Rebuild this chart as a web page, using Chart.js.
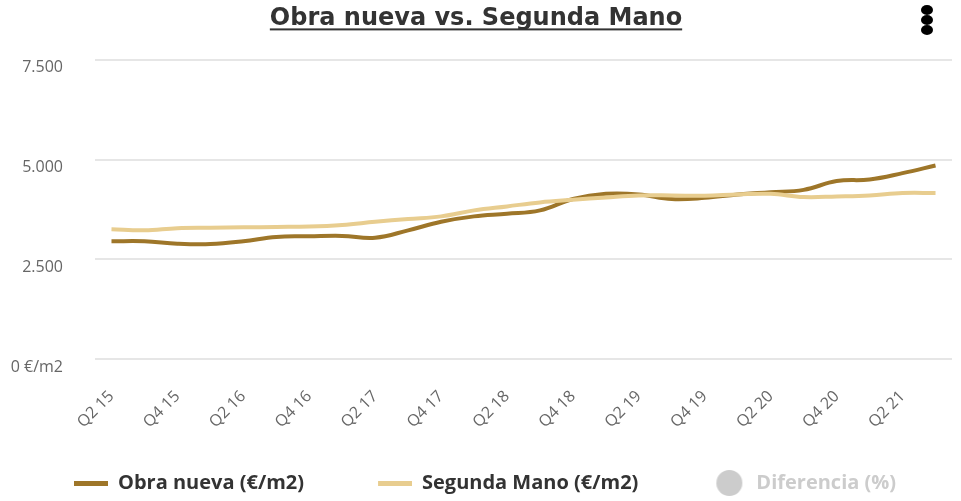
<!DOCTYPE html>
<html>
<head>
<meta charset="utf-8">
<script src="https://cdn.jsdelivr.net/npm/chart.js@4.4.0/dist/chart.umd.min.js"></script>
<style>
  html, body { margin: 0; padding: 0; background: #fff; }
  #wrap { width: 961px; height: 501px; position: relative; }
</style>
</head>
<body>
<div id="wrap"><canvas id="grafico"></canvas></div>
<script>
const trimestres = [
  "Q2 15", "Q3 15", "Q4 15", "Q1 16", "Q2 16", "Q3 16", "Q4 16", "Q1 17", "Q2 17",
  "Q3 17", "Q4 17", "Q1 18", "Q2 18", "Q3 18", "Q4 18", "Q1 19", "Q2 19", "Q3 19",
  "Q4 19", "Q1 20", "Q2 20", "Q3 20", "Q4 20", "Q1 21", "Q2 21", "Q3 21"
];
const obraNueva = [2950, 2950, 2890, 2880, 2950, 3060, 3075, 3085, 3040, 3225, 3440, 3575, 3640,
  3725, 4010, 4140, 4125, 4010, 4040, 4125, 4180, 4240, 4460, 4500, 4660, 4850];
const segundaMano = [3250, 3225, 3280, 3290, 3300, 3310, 3320, 3360, 3440, 3510, 3575, 3725, 3825,
  3925, 3990, 4050, 4100, 4100, 4090, 4125, 4140, 4060, 4075, 4100, 4160, 4160];
const diferencia = []; // serie oculta en el original
const ticksY = [0, 2500, 5000, 7500];

const colorObra = "#9e7629";
const colorSegunda = "#e8cd8f";
const colorGris = "#cccccc";

// muestras de la leyenda: hueco transparente a la izquierda + marca de 34px
const HUECO = 66;
function muestraLinea(color) {
  const c = document.createElement("canvas");
  c.width = HUECO + 34; c.height = 5;
  const x = c.getContext("2d");
  x.fillStyle = color;
  x.fillRect(HUECO, 0, 34, 5);
  return c;
}
function muestraCirculo(color) {
  const c = document.createElement("canvas");
  c.width = HUECO + 34; c.height = 26;
  const x = c.getContext("2d");
  x.fillStyle = color;
  x.beginPath();
  x.arc(HUECO + 17, 13, 13, 0, Math.PI * 2);
  x.fill();
  return c;
}
const muestras = [muestraLinea(colorObra), muestraLinea(colorSegunda), muestraCirculo(colorGris)];

function miles(v) {
  return String(v).replace(/\B(?=(\d{3})+(?!\d))/g, ".");
}

const decoracion = {
  id: "decoracion",
  afterDraw(chart) {
    const ctx = chart.ctx;
    const t = chart.options.plugins.title;
    const tb = chart.titleBlock;
    const f = Chart.helpers.toFont(t.font);
    ctx.save();
    ctx.font = f.string;
    const w = ctx.measureText(t.text).width;
    const cx = (tb.left + tb.right) / 2;
    const cy = tb.top + t.padding.top + f.lineHeight / 2;
    ctx.fillStyle = "#333333";
    ctx.fillRect(cx - w / 2, cy + 10, w, 2);
    // menu
    ctx.fillStyle = "#000";
    [10, 20, 30].forEach(y => {
      ctx.beginPath();
      ctx.ellipse(927, y, 6, 5, 0, 0, Math.PI * 2);
      ctx.fill();
    });
    ctx.restore();
  }
};

Chart.defaults.font.family = "'Open Sans', sans-serif";

new Chart(document.getElementById("grafico"), {
  type: "line",
  data: {
    labels: trimestres,
    datasets: [
      {
        label: "Obra nueva (€/m2)",
        data: obraNueva,
        borderColor: colorObra,
        backgroundColor: colorObra,
        borderWidth: 4,
        pointRadius: 0,
        tension: 0.4,
        order: 2
      },
      {
        label: "Segunda Mano (€/m2)",
        data: segundaMano,
        borderColor: colorSegunda,
        backgroundColor: colorSegunda,
        borderWidth: 4,
        pointRadius: 0,
        tension: 0.4,
        order: 1
      },
      {
        label: "Diferencia (%)",
        data: diferencia,
        borderColor: colorGris,
        backgroundColor: colorGris,
        hidden: true,
        order: 3
      }
    ]
  },
  options: {
    responsive: true,
    maintainAspectRatio: false,
    animation: false,
    layout: { padding: { left: 0, right: 9, top: 0, bottom: -2 } },
    plugins: {
      title: {
        display: true,
        text: "Obra nueva vs. Segunda Mano",
        color: "#333333",
        font: { family: "'DejaVu Sans'", size: 24, weight: "bold" },
        padding: { top: 4, bottom: 27 }
      },
      legend: {
        position: "bottom",
        align: "start",
        labels: {
          usePointStyle: true,
          pointStyleWidth: HUECO + 34,
          padding: 8,
          color: "#333333",
          font: { size: 20, weight: "bold" },
          generateLabels: chart => chart.data.datasets.map((ds, i) => ({
            text: ds.label,
            fillStyle: "transparent",
            strokeStyle: "transparent",
            lineWidth: 0,
            pointStyle: muestras[i],
            hidden: false,
            fontColor: ds.hidden ? colorGris : "#333333",
            datasetIndex: i
          }))
        }
      },
      tooltip: { enabled: false }
    },
    scales: {
      x: {
        offset: true,
        grid: { display: false },
        border: { display: false },
        ticks: {
          autoSkip: false,
          maxRotation: 45,
          minRotation: 45,
          padding: 20,
          color: "#666666",
          font: { size: 16 },
          callback: (v, i) => (i % 2 === 0 ? trimestres[i] : null)
        },
        afterFit: s => { s.height = 106; }
      },
      y: {
        min: 0,
        max: 7500,
        grid: { color: "#e6e6e6", lineWidth: 2, drawTicks: false },
        border: { display: false },
        ticks: {
          padding: 32,
          labelOffset: 8,
          color: "#666666",
          font: { size: 16 },
          callback: v => (v === 0 ? "0 €/m2" : miles(v))
        },
        afterBuildTicks: s => { s.ticks = ticksY.map(v => ({ value: v })); },
        afterFit: s => { s.width = 95; }
      }
    }
  },
  plugins: [decoracion]
});
</script>
</body>
</html>
